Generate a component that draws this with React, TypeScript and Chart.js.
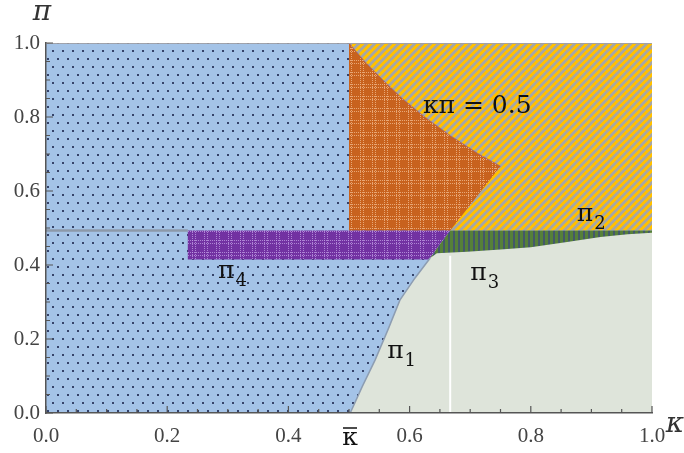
import React, { useEffect, useRef } from 'react';
import { Chart, registerables } from 'chart.js';

Chart.register(...registerables);

// ---- axis ticks ----
const majorTicks = [0, 0.2, 0.4, 0.6, 0.8, 1.0];
const minorTicks = [0.05, 0.1, 0.15, 0.25, 0.3, 0.35, 0.45, 0.5, 0.55, 0.65, 0.7, 0.75, 0.85, 0.9, 0.95];
const kappaBar = 0.5;

// ---- region boundaries (κ, π) ----
// π1 boundary curve (blue / light region)
const pi1Kappa = [0.502, 0.522, 0.543, 0.564, 0.584, 0.609, 0.634, 0.65, 0.667];
const pi1Pi = [0, 0.072, 0.143, 0.224, 0.305, 0.365, 0.419, 0.457, 0.493];
// lower edge of the π3 band
const pi3LowKappa = [0.634, 0.645, 0.695, 0.75, 0.8, 0.86, 0.915, 0.96, 1.0];
const pi3LowPi = [0.419, 0.432, 0.436, 0.442, 0.448, 0.462, 0.476, 0.483, 0.487];
const halfLevel = 0.493;
// κπ = 0.5 curve
const isoKappa = [0.5, 0.526, 0.556, 0.588, 0.625, 0.667, 0.714, 0.75];
const isoPi = [1.0, 0.95, 0.9, 0.85, 0.8, 0.75, 0.7, 0.667];
// π4 band
const pi4Left = 0.234;
const pi4Bottom = 0.415;
const pi4RightKappa = [0.632, 0.65, 0.667];
const pi4RightPi = [0.415, 0.457, 0.493];
// white vertical line
const whiteKappa = 0.667;
const whiteTop = 0.425;

type P = { x: number; y: number };
const pts = (xs: number[], ys: number[]): P[] => xs.map((x, i) => ({ x, y: ys[i] }));
const close = (p: P[]): P[] => [...p, p[0]];

function tile(w: number, h: number, draw: (g: CanvasRenderingContext2D) => void) {
  const c = document.createElement('canvas');
  c.width = w;
  c.height = h;
  const g = c.getContext('2d')!;
  draw(g);
  return c;
}

function makePatterns(ctx: CanvasRenderingContext2D) {
  const blue = tile(10, 16, (g) => {
    g.fillStyle = '#a4c3e7';
    g.fillRect(0, 0, 10, 16);
    g.fillStyle = 'rgba(25,35,75,0.8)';
    g.fillRect(2, 2, 2, 2);
    g.fillRect(7, 10, 2, 2);
  });
  const grid = (base: string, light: string) =>
    tile(12, 12, (g) => {
      g.fillStyle = base;
      g.fillRect(0, 0, 12, 12);
      g.fillStyle = light;
      for (let i = 0; i < 12; i += 2) {
        g.fillRect(i, 0, 1, 1);
        g.fillRect(i, 3, 1, 1);
        g.fillRect(0, i, 1, 1);
        g.fillRect(3, i, 1, 1);
      }
    });
  const orange = grid('#c8621e', 'rgba(240,185,140,0.8)');
  const purple = grid('#7232a2', 'rgba(195,160,230,0.75)');
  const yellow = tile(8, 8, (g) => {
    for (let x = 0; x < 8; x++)
      for (let y = 0; y < 8; y++) {
        const m = (x + y) % 8;
        g.fillStyle = m < 4 ? '#a8a7a0' : '#ffc000';
        g.fillRect(x, y, 1, 1);
      }
  });
  const green = tile(5, 1, (g) => {
    g.fillStyle = '#568039';
    g.fillRect(0, 0, 3, 1);
    g.fillStyle = '#43586a';
    g.fillRect(3, 0, 2, 1);
  });
  return {
    blue: ctx.createPattern(blue, 'repeat')!,
    orange: ctx.createPattern(orange, 'repeat')!,
    purple: ctx.createPattern(purple, 'repeat')!,
    yellow: ctx.createPattern(yellow, 'repeat')!,
    green: ctx.createPattern(green, 'repeat')!,
  };
}

const overlay = {
  id: 'overlay',
  afterDraw(chart: any) {
    const { ctx, chartArea } = chart;
    const xs = chart.scales.x;
    const ys = chart.scales.y;
    const { left, right, top, bottom } = chartArea;
    ctx.save();
    // frame top
    ctx.strokeStyle = 'rgba(160,160,165,0.9)';
    ctx.lineWidth = 1;
    ctx.beginPath();
    ctx.moveTo(left, top + 0.5);
    ctx.lineTo(right, top + 0.5);
    ctx.stroke();
    // inward ticks
    ctx.strokeStyle = '#555';
    ctx.lineWidth = 1.2;
    const tick = (v: number, len: number) => {
      const x = xs.getPixelForValue(v);
      const y = ys.getPixelForValue(v);
      ctx.beginPath();
      ctx.moveTo(x, bottom);
      ctx.lineTo(x, bottom - len);
      ctx.moveTo(left, y);
      ctx.lineTo(left + len, y);
      ctx.stroke();
    };
    majorTicks.forEach((v) => tick(v, 7));
    minorTicks.forEach((v) => tick(v, 4));

    // κ̄ label
    const kb = xs.getPixelForValue(kappaBar);
    ctx.fillStyle = '#111';
    ctx.font = '25px "DejaVu Serif"';
    ctx.textAlign = 'center';
    ctx.textBaseline = 'alphabetic';
    ctx.fillText('κ', kb + 1, bottom + 32);
    ctx.strokeStyle = '#111';
    ctx.lineWidth = 1.5;
    ctx.beginPath();
    ctx.moveTo(kb - 6, bottom + 15);
    ctx.lineTo(kb + 8, bottom + 15);
    ctx.stroke();

    // axis titles
    ctx.fillStyle = '#333';
    ctx.font = 'italic 28px "DejaVu Serif"';
    ctx.fillText('π', left - 4, top - 23);
    ctx.fillText('κ', right + 23, bottom + 19);

    // region labels
    ctx.textAlign = 'left';
    ctx.fillStyle = '#111';
    ctx.font = '25px "DejaVu Serif"';
    ctx.fillText('κπ = 0.5', xs.getPixelForValue(0.622), ys.getPixelForValue(0.811));
    const piLabel = (sub: string, kx: number, py: number) => {
      const x = xs.getPixelForValue(kx);
      const y = ys.getPixelForValue(py);
      ctx.font = '25px "DejaVu Serif"';
      ctx.fillText('π', x, y);
      const w = ctx.measureText('π').width;
      ctx.font = '18px "DejaVu Serif"';
      ctx.fillText(sub, x + w + 1, y + 8);
    };
    piLabel('1', 0.563, 0.149);
    piLabel('2', 0.876, 0.519);
    piLabel('3', 0.7, 0.359);
    piLabel('4', 0.284, 0.365);
    ctx.restore();
  },
};

export default function App() {
  const ref = useRef<HTMLCanvasElement>(null);
  useEffect(() => {
    document.body.style.margin = '0';
    const canvas = ref.current!;
    const ctx = canvas.getContext('2d')!;
    const pat = makePatterns(ctx);

    const bluePoly = close([{ x: 0, y: 0 }, { x: 0, y: 1 }, { x: 1, y: 1 }, { x: 1, y: 0 }]);
    const lightPoly = close([...pts(pi1Kappa, pi1Pi), { x: 1, y: halfLevel }, { x: 1, y: 0 }]);
    const yellowPoly = close([{ x: kappaBar, y: halfLevel }, { x: kappaBar, y: 1 }, { x: 1, y: 1 }, { x: 1, y: halfLevel }]);
    const greenPoly = close([
      ...pts(pi1Kappa.slice(6), pi1Pi.slice(6)),
      { x: 1, y: halfLevel },
      ...pts(pi3LowKappa, pi3LowPi).reverse(),
    ]);
    const orangePoly = close([{ x: kappaBar, y: halfLevel }, ...pts(isoKappa, isoPi), { x: whiteKappa, y: halfLevel }]);
    const purplePoly = close([
      { x: pi4Left, y: pi4Bottom },
      { x: pi4Left, y: halfLevel },
      ...pts(pi4RightKappa, pi4RightPi).reverse(),
    ]);

    const area = (data: P[], bg: any, order: number) => ({
      data,
      backgroundColor: bg,
      borderColor: 'rgba(0,0,0,0)',
      borderWidth: 0,
      fill: 'shape',
      pointRadius: 0,
      order,
    });
    const line = (data: P[], color: string, width: number, order: number) => ({
      data,
      borderColor: color,
      borderWidth: width,
      fill: false,
      pointRadius: 0,
      order,
    });

    const tickFont = { family: "'Liberation Serif', 'Times New Roman', serif", size: 21 };
    const chart = new Chart(canvas, {
      type: 'line',
      data: {
        datasets: [
          area(bluePoly, pat.blue, 20),
          area(lightPoly, '#dee4da', 19),
          area(yellowPoly, pat.yellow, 18),
          area(greenPoly, pat.green, 17),
          area(orangePoly, pat.orange, 16),
          area(purplePoly, pat.purple, 15),
          line(pts(pi1Kappa.slice(0, 7), pi1Pi.slice(0, 7)), '#8d9db2', 1.5, 5),
          line(pts(isoKappa, isoPi), 'rgba(150,100,150,0.7)', 1, 5),
          line([{ x: 0, y: halfLevel }, { x: pi4Left, y: halfLevel }], '#8c99aa', 2.5, 4),
          line([{ x: whiteKappa, y: 0 }, { x: whiteKappa, y: whiteTop }], '#ffffff', 2, 3),
        ] as any,
      },
      options: {
        responsive: false,
        animation: false,
        events: [],
        layout: { padding: { top: 43, right: 32, left: 0, bottom: 0 } },
        plugins: { legend: { display: false }, tooltip: { enabled: false } },
        scales: {
          x: {
            type: 'linear',
            min: 0,
            max: 1,
            afterFit: (s: any) => {
              s.height = 40;
            },
            grid: { display: false, drawTicks: false },
            border: { display: true, color: '#555', width: 1.5, z: 1 },
            ticks: {
              stepSize: 0.2,
              autoSkip: false,
              maxRotation: 0,
              padding: 11,
              color: '#444',
              font: tickFont,
              callback: (v: any) => Number(v).toFixed(1),
            },
          },
          y: {
            type: 'linear',
            min: 0,
            max: 1,
            afterFit: (s: any) => {
              s.width = 46;
            },
            grid: { display: false, drawTicks: false },
            border: { display: true, color: '#555', width: 1.5, z: 1 },
            ticks: {
              stepSize: 0.2,
              autoSkip: false,
              padding: 6,
              color: '#444',
              font: tickFont,
              callback: (v: any) => Number(v).toFixed(1),
            },
          },
        },
      } as any,
      plugins: [overlay],
    });
    return () => chart.destroy();
  }, []);
  return <canvas ref={ref} width={684} height={453} style={{ display: 'block', width: 684, height: 453 }} />;
}
